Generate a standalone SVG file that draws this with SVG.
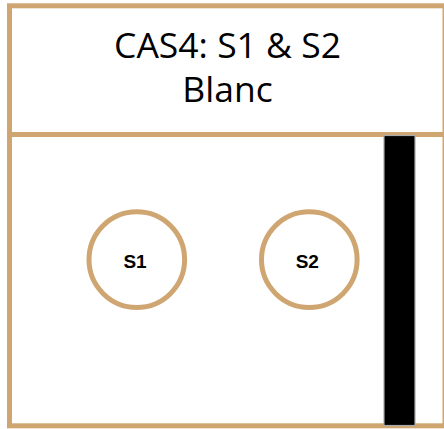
<svg xmlns="http://www.w3.org/2000/svg" width="444" height="429" viewBox="0 0 444 429">
<style>
.frame{fill:#fff;stroke:#CFA672;stroke-width:5}
.title{font-family:"Open Sans","Noto Sans",sans-serif;font-size:35.5px;fill:#000;text-anchor:middle}
.node circle{fill:#fff;stroke:#CFA672;stroke-width:5}
.node text{font-family:"Liberation Sans",Arial,sans-serif;font-weight:bold;font-size:19px;fill:#000;text-anchor:middle}
</style>
<rect width="444" height="429" fill="#fff"/>
<g id="header">
<rect class="frame" x="9.5" y="5.8" width="435.5" height="128.7"/>
<text class="title" x="227.5" y="58.3">CAS4: S1 &amp; S2</text>
<text class="title" x="227.5" y="101.7">Blanc</text>
</g>
<g id="room">
<rect class="frame" x="9.5" y="134.5" width="435.5" height="291.3"/>
</g>
<g id="bar">
<rect x="384" y="135.5" width="31" height="290" fill="#000" stroke="#aaa" stroke-width="1.2"/>
</g>
<g id="S1" class="node">
<circle cx="136.8" cy="259.6" r="47.8"/>
<text x="135" y="267.7">S1</text>
</g>
<g id="S2" class="node">
<circle cx="309.3" cy="259.6" r="47.8"/>
<text x="307.3" y="267.7">S2</text>
</g>
<g id="connectors"/>
</svg>
